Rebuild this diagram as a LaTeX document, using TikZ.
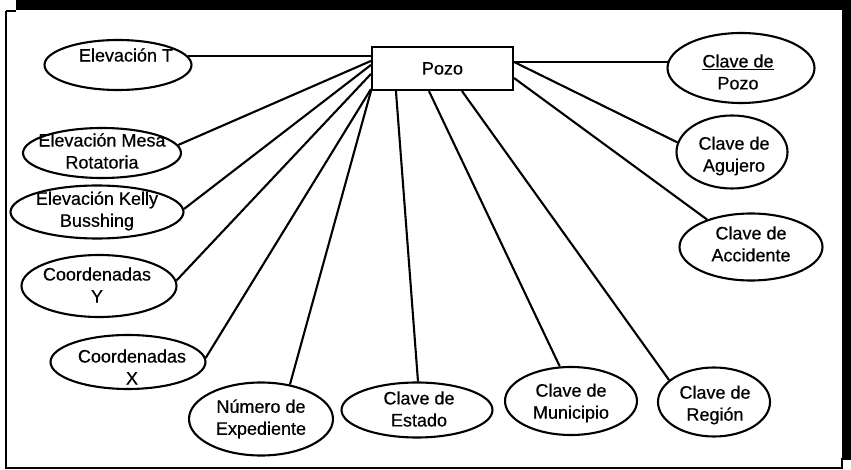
\documentclass[tikz,border=0pt]{standalone}
\usepackage{fontspec}
\setmainfont{Liberation Sans}
\newfontfamily\labelfont{Liberation Sans}[FakeBold=0.5]
\usetikzlibrary{shapes.geometric,calc}
\begin{document}
\begin{tikzpicture}[x=1pt,y=-1pt,
  attr/.style={draw, ellipse, line width=2.1pt, inner sep=0pt},
  txt/.style={inner sep=0pt, align=center, font=\labelfont\fontsize{18}{22}\selectfont},
  entity/.style={draw, rectangle, line width=2.1pt, inner sep=0pt,
    minimum width=141pt, minimum height=43pt, font=\labelfont\fontsize{18}{22}\selectfont},
  link/.style={line width=2.1pt},
  rim/.style={line width=2.6pt}]
\useasboundingbox (0,0) rectangle (851,470);

% scanned page edges
\fill (16,0) rectangle (851,10);
\fill (842,0) rectangle (851,460);
\draw[rim] (6,11) -- (16,11);
\draw[rim] (6,11) -- (6,468) -- (842,468) -- (842,458);

% entity
\node[entity] (pozo) at (442.5,68.5) {Pozo};

% attributes
\node[attr, minimum width=147pt, minimum height=50pt] (eT) at (118,65) {};
\node[txt] (eT-t) at ($(eT)+(8,-10)$) {Elevación T};

\node[attr, minimum width=158pt, minimum height=50pt] (mesa) at (102,153) {};
\node[txt] (mesa-t) at ($(mesa)+(0,-2)$) {Elevación Mesa\\Rotatoria};

\node[attr, minimum width=173pt, minimum height=53pt] (kelly) at (97,212) {};
\node[txt] (kelly-t) at ($(kelly)+(0,-1)$) {Elevación Kelly\\Busshing};

\node[attr, minimum width=155pt, minimum height=62pt] (coordY) at (99,286) {};
\node[txt] (coordY-t) at ($(coordY)+(-2,-1)$) {Coordenadas\\Y};

\node[attr, minimum width=155pt, minimum height=54pt] (coordX) at (128,362) {};
\node[txt] (coordX-t) at ($(coordX)+(4,5)$) {Coordenadas\\X};

\node[attr, minimum width=144pt, minimum height=73pt] (exped) at (261,419) {};
\node[txt] (exped-t) at (exped) {Número de\\Expediente};

\node[attr, minimum width=151pt, minimum height=55pt] (estado) at (417,410) {};
\node[txt] (estado-t) at ($(estado)+(2,-1)$) {Clave de\\Estado};

\node[attr, minimum width=132pt, minimum height=68pt] (munic) at (571,401) {};
\node[txt] (munic-t) at ($(munic)+(0,2)$) {Clave de\\Municipio};

\node[attr, minimum width=112pt, minimum height=69pt] (region) at (714,402) {};
\node[txt] (region-t) at ($(region)+(1,3)$) {Clave de\\Región};

\node[attr, minimum width=143pt, minimum height=67pt] (accid) at (751,247) {};
\node[txt] (accid-t) at ($(accid)+(0,-3)$) {Clave de\\Accidente};

\node[attr, minimum width=111pt, minimum height=73pt] (aguj) at (732,152) {};
\node[txt] (aguj-t) at ($(aguj)+(2,4)$) {Clave de\\Agujero};

\node[attr, minimum width=147pt, minimum height=70pt] (cpozo) at (741,68) {};
\node[txt] (cpozo-t) at ($(cpozo)+(-3,4)$) {\underline{Clave de}\\Pozo};

% connectors
\draw[link] (eT.7) -- (eT.7 -| pozo.west);
\draw[link] (mesa.6.6) -- ($(pozo.north west)+(0,15)$);
\draw[link] (kelly.2.7) -- ($(pozo.north west)+(0,19)$);
\draw[link] (coordY.4.2) -- ($(pozo.north west)+(0,28)$);
\draw[link] (coordX.3.7) -- ($(pozo.south west)+(0,-2)$);
\draw[link] (exped.50) -- (pozo.south west);
\draw[link] (estado.88) -- ($(pozo.south west)+(25,0)$);
\draw[link] (munic.108) -- ($(pozo.south west)+(58,0)$);
\draw[link] (region.154.5) -- ($(pozo.south west)+(91,0)$);
\draw[link] (accid.148) -- ($(pozo.south east)+(0,-13)$);
\draw[link] (aguj.170.7) -- ($(pozo.north east)+(0,16)$);
\draw[link] (cpozo.175 -| pozo.east) -- (cpozo.175);
\end{tikzpicture}
\end{document}
